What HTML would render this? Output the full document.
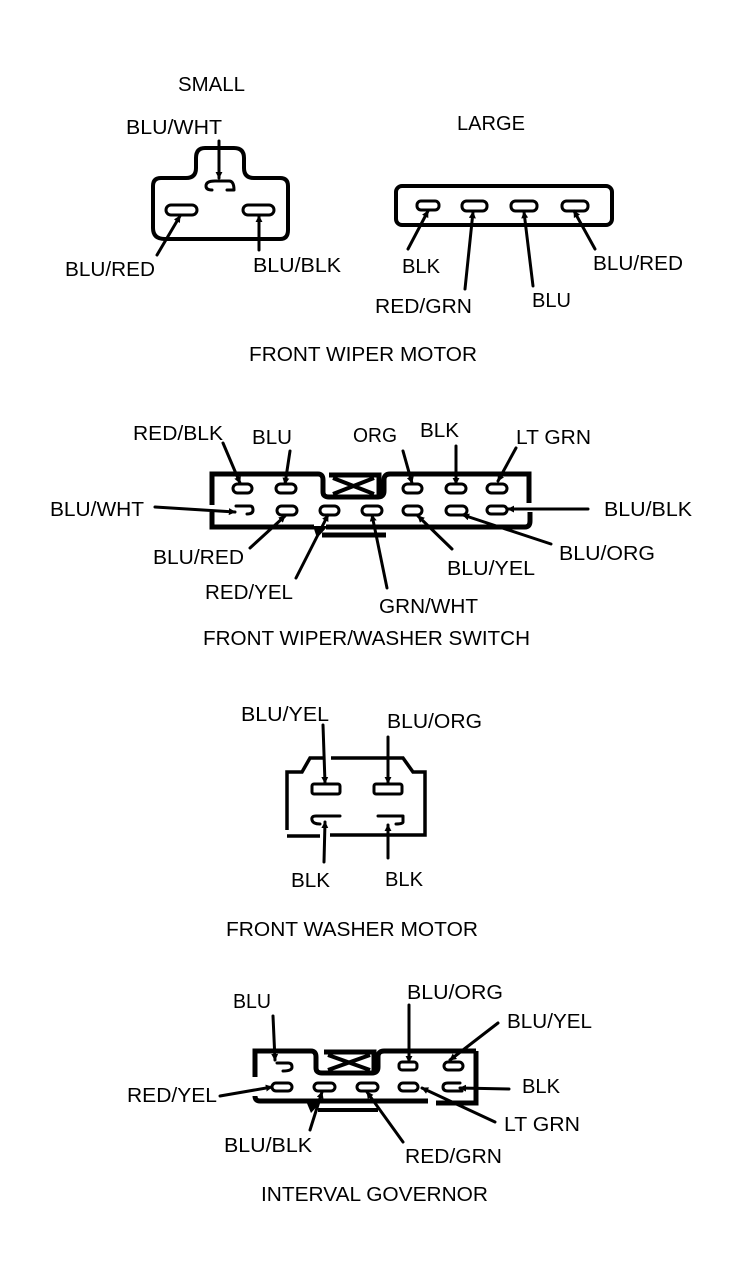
<!DOCTYPE html>
<html>
<head>
<meta charset="utf-8">
<style>
html,body{margin:0;padding:0;background:#fff;width:746px;height:1285px;overflow:hidden}
svg{display:block}
text{font-family:"Liberation Sans",sans-serif;font-size:20.5px;fill:#000}
.o{fill:none;stroke:#000;stroke-width:4;stroke-linejoin:round;stroke-linecap:round}
.p{fill:none;stroke:#000;stroke-width:3;stroke-linejoin:round;stroke-linecap:round}
.a{fill:none;stroke:#000;stroke-width:3;stroke-linecap:round;marker-end:url(#h)}
</style>
</head>
<body>
<svg width="746" height="1285" viewBox="0 0 746 1285" xmlns="http://www.w3.org/2000/svg">
<defs>
<marker id="h" viewBox="0 0 8 8" refX="7" refY="4" markerWidth="7" markerHeight="7" markerUnits="userSpaceOnUse" orient="auto"><path d="M0 0L8 4L0 8Z" fill="#000"/></marker>
</defs>

<!-- Small connector -->
<path class="o" d="M174 178H161Q153 178 153 186V228Q153 239 165 239H280Q288 239 288 230V186Q288 178 280 178H254Q244 178 244 168V158Q244 148 234 148H205Q196 148 196 158V168Q196 178 186 178Z"/>
<path class="p" d="M221 181H215Q206 181 206 186Q206 190 212 190M221 181H229Q234 181 234 190H227"/>
<rect class="p" x="166" y="205" width="31" height="10" rx="5"/>
<rect class="p" x="243" y="205" width="31" height="10" rx="5"/>
<path class="a" d="M219 141V178"/>
<path class="a" d="M157 255L180 216"/>
<path class="a" d="M259 250V216"/>
<text x="178" y="91" textLength="67" lengthAdjust="spacingAndGlyphs">SMALL</text>
<text x="126" y="134" textLength="96" lengthAdjust="spacingAndGlyphs">BLU/WHT</text>
<text x="65" y="276" textLength="90" lengthAdjust="spacingAndGlyphs">BLU/RED</text>
<text x="253" y="272" textLength="88" lengthAdjust="spacingAndGlyphs">BLU/BLK</text>

<!-- Large connector -->
<rect class="o" x="396" y="186" width="216" height="39" rx="6"/>
<rect class="p" x="417" y="201" width="22" height="9" rx="4"/>
<rect class="p" x="462" y="201" width="25" height="10" rx="4.5"/>
<rect class="p" x="511" y="201" width="26" height="10" rx="4.5"/>
<rect class="p" x="562" y="201" width="26" height="10" rx="4.5"/>
<path class="a" d="M408 249L428 211"/>
<path class="a" d="M465 289L473 212"/>
<path class="a" d="M533 286L524 212"/>
<path class="a" d="M595 249L574 211"/>
<text x="457" y="130" textLength="68" lengthAdjust="spacingAndGlyphs">LARGE</text>
<text x="402" y="273" textLength="38" lengthAdjust="spacingAndGlyphs">BLK</text>
<text x="375" y="313" textLength="97" lengthAdjust="spacingAndGlyphs">RED/GRN</text>
<text x="532" y="307" textLength="39" lengthAdjust="spacingAndGlyphs">BLU</text>
<text x="593" y="270" textLength="90" lengthAdjust="spacingAndGlyphs">BLU/RED</text>
<text x="249" y="361" textLength="228" lengthAdjust="spacingAndGlyphs">FRONT WIPER MOTOR</text>

<!-- Switch -->
<path d="M212 505V474H318Q323 474 323 480V492Q323 497 329 497H378Q384 497 384 491V480Q384 474 390 474H529V503M212 512V527H314M326 527H525Q530 527 530 521V512" fill="none" stroke="#000" stroke-width="5"/>
<path d="M329 475H379V496" fill="none" stroke="#000" stroke-width="5"/>
<path d="M333 478L374 494M374 478L333 494" stroke="#000" stroke-width="4"/>
<path d="M313 526H328L317 538Z" fill="#000"/>
<path d="M322 535H386" stroke="#000" stroke-width="5"/>
<rect class="p" x="233" y="484" width="19" height="9" rx="4.5"/>
<rect class="p" x="276" y="484" width="20" height="9" rx="4.5"/>
<rect class="p" x="403" y="484" width="19" height="9" rx="4.5"/>
<rect class="p" x="446" y="484" width="20" height="9" rx="4.5"/>
<rect class="p" x="487" y="484" width="20" height="9" rx="4.5"/>
<path class="p" d="M236 506H250Q253 506 253 510Q253 514 247 514"/>
<rect class="p" x="277" y="506" width="20" height="9" rx="4.5"/>
<rect class="p" x="320" y="506" width="19" height="9" rx="4.5"/>
<rect class="p" x="362" y="506" width="20" height="9" rx="4.5"/>
<rect class="p" x="403" y="506" width="19" height="9" rx="4.5"/>
<rect class="p" x="446" y="506" width="21" height="9" rx="4.5"/>
<rect class="p" x="487" y="506" width="20" height="8" rx="4"/>
<path class="a" d="M223 443L240 483"/>
<path class="a" d="M290 451L285 484"/>
<path class="a" d="M403 451L412 483"/>
<path class="a" d="M456 446V484"/>
<path class="a" d="M516 448L498 481"/>
<path class="a" d="M155 507L235 512"/>
<path class="a" d="M588 509H508"/>
<path class="a" d="M250 548L285 516"/>
<path class="a" d="M296 578L328 515"/>
<path class="a" d="M387 588L372 515"/>
<path class="a" d="M452 549L418 516"/>
<path class="a" d="M551 544L463 515"/>
<text x="133" y="440" textLength="90" lengthAdjust="spacingAndGlyphs">RED/BLK</text>
<text x="252" y="444" textLength="40" lengthAdjust="spacingAndGlyphs">BLU</text>
<text x="353" y="442" textLength="44" lengthAdjust="spacingAndGlyphs">ORG</text>
<text x="420" y="437" textLength="39" lengthAdjust="spacingAndGlyphs">BLK</text>
<text x="516" y="444" textLength="75" lengthAdjust="spacingAndGlyphs">LT GRN</text>
<text x="50" y="516" textLength="94" lengthAdjust="spacingAndGlyphs">BLU/WHT</text>
<text x="604" y="516" textLength="88" lengthAdjust="spacingAndGlyphs">BLU/BLK</text>
<text x="153" y="564" textLength="91" lengthAdjust="spacingAndGlyphs">BLU/RED</text>
<text x="205" y="599" textLength="88" lengthAdjust="spacingAndGlyphs">RED/YEL</text>
<text x="447" y="575" textLength="88" lengthAdjust="spacingAndGlyphs">BLU/YEL</text>
<text x="559" y="560" textLength="96" lengthAdjust="spacingAndGlyphs">BLU/ORG</text>
<text x="379" y="613" textLength="99" lengthAdjust="spacingAndGlyphs">GRN/WHT</text>
<text x="203" y="645" textLength="327" lengthAdjust="spacingAndGlyphs">FRONT WIPER/WASHER SWITCH</text>

<!-- Washer motor -->
<path d="M287 830V772H302L310 758H324M331 758H403L413 772H425V835H330M320 836H287" fill="none" stroke="#000" stroke-width="3.5"/>
<rect class="p" x="312" y="784" width="28" height="10" rx="2"/>
<rect class="p" x="374" y="784" width="28" height="10" rx="2"/>
<path class="p" d="M340 816H316Q311 816 312 820Q313 824 320 824"/>
<path class="p" d="M378 816H403V822Q403 824 396 824"/>
<path class="a" d="M323 725L325 783"/>
<path class="a" d="M388 737V783"/>
<path class="a" d="M324 862L325 822"/>
<path class="a" d="M388 858V825"/>
<text x="241" y="721" textLength="88" lengthAdjust="spacingAndGlyphs">BLU/YEL</text>
<text x="387" y="728" textLength="95" lengthAdjust="spacingAndGlyphs">BLU/ORG</text>
<text x="291" y="887" textLength="39" lengthAdjust="spacingAndGlyphs">BLK</text>
<text x="385" y="886" textLength="38" lengthAdjust="spacingAndGlyphs">BLK</text>
<text x="226" y="936" textLength="252" lengthAdjust="spacingAndGlyphs">FRONT WASHER MOTOR</text>

<!-- Interval governor -->
<path d="M255 1077V1051H311Q316 1051 316 1057V1068Q316 1073 322 1073H372Q378 1073 378 1067V1057Q378 1051 384 1051H476M476 1051V1103H436M428 1101H310M260 1101Q255 1101 255 1096M260 1101H310" fill="none" stroke="#000" stroke-width="5"/>
<path d="M324 1052H374V1072" fill="none" stroke="#000" stroke-width="5"/>
<path d="M328 1055L370 1070M370 1055L328 1070" stroke="#000" stroke-width="4"/>
<path d="M306 1101H322L311 1113Z" fill="#000"/>
<path d="M318 1110H378" stroke="#000" stroke-width="4"/>
<path class="p" d="M277 1063H288Q292 1063 292 1067Q292 1071 283 1071"/>
<rect class="p" x="399" y="1062" width="18" height="8" rx="3"/>
<rect class="p" x="444" y="1062" width="19" height="8" rx="4"/>
<rect class="p" x="272" y="1083" width="20" height="8" rx="4"/>
<rect class="p" x="314" y="1083" width="21" height="8" rx="4"/>
<rect class="p" x="357" y="1083" width="21" height="8" rx="4"/>
<rect class="p" x="399" y="1083" width="19" height="8" rx="4"/>
<path class="p" d="M460 1083H448Q443 1083 443 1087Q443 1091 448 1091H462"/>
<path class="a" d="M273 1016L275 1060"/>
<path class="a" d="M220 1096L272 1087"/>
<path class="a" d="M310 1130L322 1092"/>
<path class="a" d="M409 1005V1062"/>
<path class="a" d="M498 1023L450 1060"/>
<path class="a" d="M509 1089L460 1088"/>
<path class="a" d="M495 1122L422 1088"/>
<path class="a" d="M403 1142L367 1092"/>
<text x="233" y="1008" textLength="38" lengthAdjust="spacingAndGlyphs">BLU</text>
<text x="127" y="1102" textLength="90" lengthAdjust="spacingAndGlyphs">RED/YEL</text>
<text x="224" y="1152" textLength="88" lengthAdjust="spacingAndGlyphs">BLU/BLK</text>
<text x="407" y="999" textLength="96" lengthAdjust="spacingAndGlyphs">BLU/ORG</text>
<text x="507" y="1028" textLength="85" lengthAdjust="spacingAndGlyphs">BLU/YEL</text>
<text x="522" y="1093" textLength="38" lengthAdjust="spacingAndGlyphs">BLK</text>
<text x="504" y="1131" textLength="76" lengthAdjust="spacingAndGlyphs">LT GRN</text>
<text x="405" y="1163" textLength="97" lengthAdjust="spacingAndGlyphs">RED/GRN</text>
<text x="261" y="1201" textLength="227" lengthAdjust="spacingAndGlyphs">INTERVAL GOVERNOR</text>
</svg>
</body>
</html>
